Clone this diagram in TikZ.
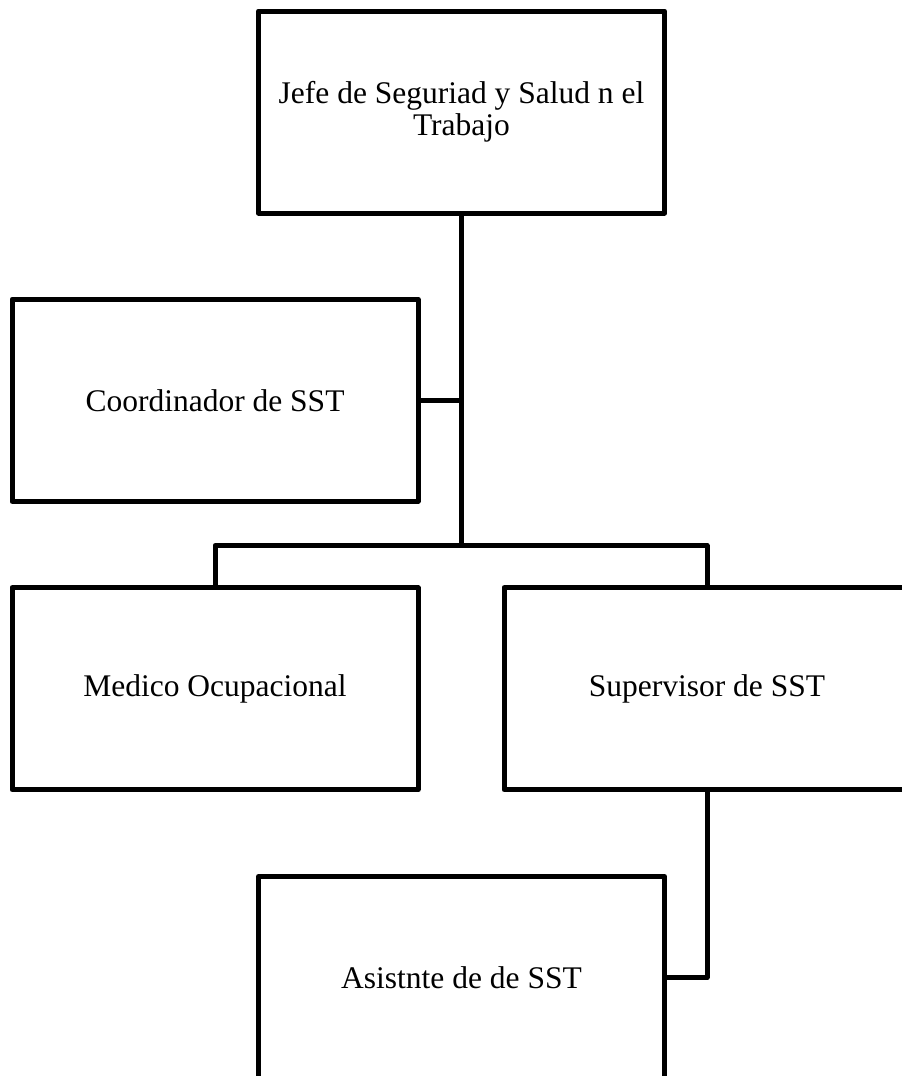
\documentclass[tikz,border=0pt]{standalone}
\usepackage{fontspec}
\setmainfont{Liberation Serif}
\begin{document}
\begin{tikzpicture}[x=1pt,y=-1pt,
  orgbox/.style={draw=black, line width=5pt, line join=round, fill=white, rectangle,
    inner sep=0pt, minimum width=406pt, minimum height=202pt,
    align=center, font=\fontsize{31.5}{32}\selectfont},
  conn/.style={draw=black, line width=5pt, line join=round}]
\useasboundingbox (0,0) rectangle (902,1076);
\clip (0,0) rectangle (902,1076);
\fill[white] (0,0) rectangle (902,1076);
\coordinate (bus) at (460.5,545.5);
\node[orgbox] (top) at (461.5,112) {Jefe de Seguriad y Salud n el\\Trabajo};
\node[orgbox] (coord) at (215,400.25) {Coordinador de SST};
\node[orgbox] (med) at (215,688.75) {Medico Ocupacional};
\node[orgbox] (sup) at (707,688.75) {Supervisor de SST};
\node[orgbox] (asis) at (461.5,977.5) {Asistnte de de SST};
\draw[conn] (top.south) -- (top.south |- bus);
\draw[conn] (coord.east) -- (coord.east -| top.south);
\draw[conn] (med.north) -- (med.north |- bus) -| (sup.north);
\draw[conn] (sup.south) |- (asis.east);
\end{tikzpicture}
\end{document}
